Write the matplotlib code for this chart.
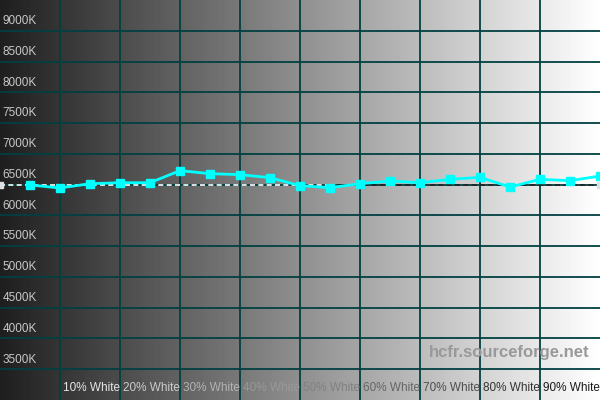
import numpy as np
import matplotlib
matplotlib.use("Agg")
import matplotlib.pyplot as plt

plt.rcParams["font.family"] = ["Liberation Sans", "DejaVu Sans"]

# measured colour temperature per grey level (% white)
levels = [5, 10, 15, 20, 25, 30, 35, 40, 45, 50, 55, 60, 65, 70, 75, 80, 85, 90, 95, 100]
temps = [6494, 6445, 6515, 6531, 6531, 6727, 6678, 6662, 6613, 6483,
         6450, 6515, 6559, 6531, 6586, 6618, 6461, 6586, 6564, 6640]

target = 6500
ytick_vals = [3500, 4000, 4500, 5000, 5500, 6000, 6500, 7000, 7500, 8000, 8500, 9000]
ytick_labels = [f"{v}K" for v in ytick_vals]
xtick_vals = [10, 20, 30, 40, 50, 60, 70, 80, 90]
xtick_labels = [f"{v}% White" for v in xtick_vals]

fig = plt.figure(figsize=(6, 4), dpi=100)
ax = fig.add_axes([0, 0, 1, 1])
ax.set_xlim(0, 100)
ax.set_ylim(3000, 9500)
ax.axis("off")

# grey ramp background
grad = np.linspace(0.12, 1.0, 600).reshape(1, -1)
ax.imshow(grad, cmap="gray", vmin=0, vmax=1, aspect="auto",
          extent=[0, 100, 3000, 9500], zorder=0)

grid_col = "#004040"
for v in ytick_vals:
    ax.axhline(v, color=grid_col, lw=1.3, zorder=1)
for v in xtick_vals:
    ax.axvline(v, color=grid_col, lw=1.3, zorder=1)

# target line, dashes inverted against background
ax.plot([0, 55], [target, target], color="white", lw=1.2, ls=(0, (3, 2)), zorder=2)
ax.plot([55, 100], [target, target], color="#222222", lw=1.2, ls=(0, (3, 2)), zorder=2)
ax.plot([0, 100], [target, target], ls="none", marker="s", ms=5,
        color="#e0e0e0", zorder=2, clip_on=True)

ax.plot(levels, temps, color="#00ffff", lw=2, marker="s", ms=6,
        zorder=3, clip_on=True)

for v, lab in zip(ytick_vals, ytick_labels):
    ax.text(0.4, v + 60, lab, color="#c8c8c8", fontsize=8.5,
            ha="left", va="bottom", zorder=4)

xt = ax.get_xaxis_transform()
for v, lab in zip(xtick_vals, xtick_labels):
    g = 1 - v / 100
    ax.text(v + 0.5, 0.03, lab, color=(g, g, g), fontsize=8.5,
            ha="left", va="center", transform=xt, zorder=4)

ax.text(0.983, 0.12, "hcfr.sourceforge.net", transform=ax.transAxes,
        color="#999999", fontsize=12, fontweight="bold",
        ha="right", va="center", zorder=4)

fig.savefig("out.png", dpi=100)
